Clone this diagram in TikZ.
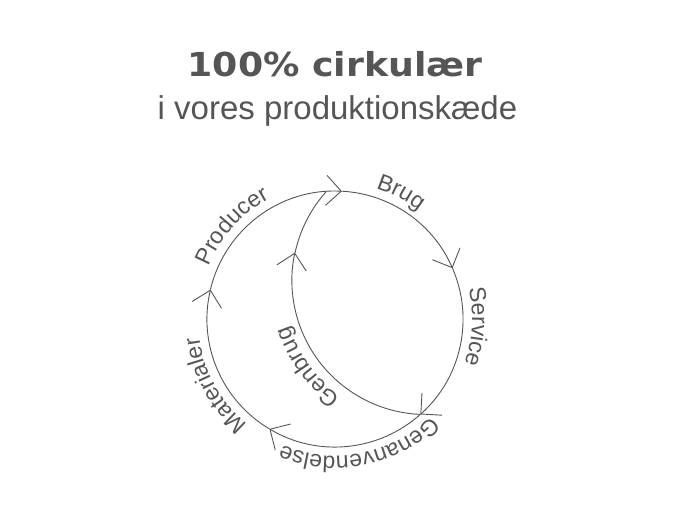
\documentclass[tikz,border=0pt]{standalone}
\usepackage{fontspec}
\setmainfont{Liberation Sans}
\newfontfamily\titlefont[FakeStretch=1.1]{DejaVu Sans}
\usetikzlibrary{arrows.meta,decorations.text}
\definecolor{ink}{HTML}{555555}
\newcommand{\lblfont}{\fontsize{23}{26}\selectfont}
\begin{document}
\begin{tikzpicture}[x=1pt,y=1pt,
  flow/.style={draw=ink,line width=0.9pt,-{Straight Barb[length=15pt,width=30pt]}},
  plain/.style={draw=ink,line width=0.9pt},
  curved/.style={decorate,decoration={text along path,text align=center,text color=ink,text={|\lblfont|#1}}}]
\useasboundingbox (0,0) rectangle (680,510);
\node[anchor=base,text=ink,font=\titlefont\bfseries\fontsize{33}{36}\selectfont] (title) at (335,433) {100\% cirkulær};
\node[anchor=base,text=ink,font=\fontsize{33}{36}\selectfont] (sub) at (337.5,390) {i vores produktionskæde};
\coordinate (c) at (335,191);
\coordinate (ci) at (426,229);
\coordinate (top) at (341.9,318.8);
\coordinate (right) at (452.5,241.8);
\coordinate (join) at (420.3,95.6);
\coordinate (low) at (269.5,81.0);
\coordinate (left) at (210.4,220.4);
\coordinate (mid) at (295.0,256.9);
\draw[flow] (left) arc[start angle=166.7,end angle=86.9,radius=128];
\draw[flow] (top) arc[start angle=86.9,end angle=23.4,radius=128];
\draw[flow] (right) arc[start angle=23.4,end angle=-48.2,radius=128];
\draw[flow] (join) arc[start angle=-48.2,end angle=-120.8,radius=128];
\draw[flow] (low) arc[start angle=239.2,end angle=166.7,radius=128];
\draw[flow] (join) arc[start angle=267.6,end angle=168,radius=134];
\draw[plain] (mid) arc[start angle=168,end angle=138.1,radius=134];
\path[curved=Producer] ([shift={(188:137)}]c) arc[start angle=188,end angle=88,radius=137];
\path[curved=Brug] ([shift={(112.5:137)}]c) arc[start angle=112.5,end angle=12.5,radius=137];
\path[curved=Service] ([shift={(46.8:137)}]c) arc[start angle=46.8,end angle=-53.2,radius=137];
\path[curved=Genanvendelse] ([shift={(-29:137)}]c) arc[start angle=-29,end angle=-129,radius=137];
\path[curved=Materialer] ([shift={(259:137)}]c) arc[start angle=259,end angle=159,radius=137];
\path[curved=Genbrug] ([shift={(266:144)}]ci) arc[start angle=266,end angle=166,radius=144];
\end{tikzpicture}
\end{document}
